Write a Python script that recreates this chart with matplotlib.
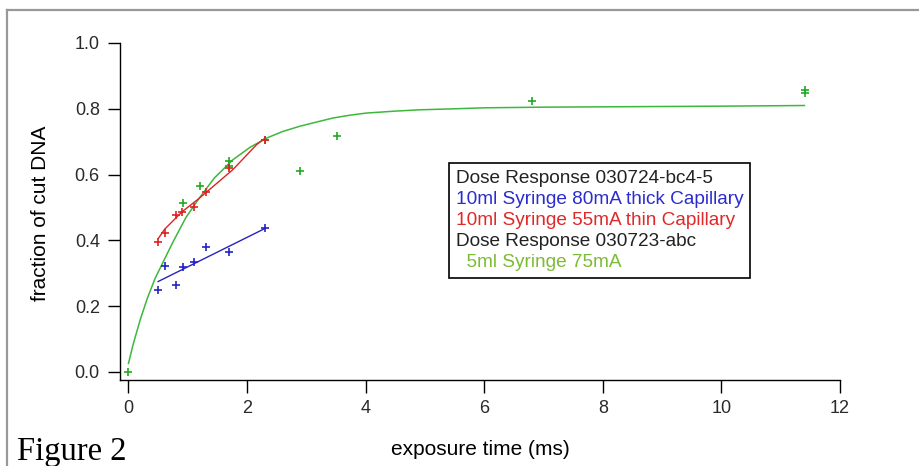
import matplotlib.pyplot as plt
from matplotlib.lines import Line2D

plt.rcParams['font.family'] = ['Liberation Sans', 'DejaVu Sans']

# 10ml Syringe 80mA thick Capillary
blue_x = [0.5, 0.61, 0.8, 0.92, 1.1, 1.3, 1.69, 2.31]
blue_y = [0.25, 0.323, 0.263, 0.319, 0.333, 0.381, 0.364, 0.437]
blue_fit_x = [0.5, 2.31]
blue_fit_y = [0.275, 0.437]

# 10ml Syringe 55mA thin Capillary
red_x = [0.5, 0.61, 0.8, 0.91, 1.1, 1.3, 1.69, 2.3]
red_y = [0.394, 0.422, 0.478, 0.485, 0.501, 0.547, 0.62, 0.706]
red_fit_x = [0.5, 0.61, 0.91, 1.2, 1.76, 2.16, 2.3]
red_fit_y = [0.405, 0.434, 0.488, 0.529, 0.615, 0.691, 0.71]

# 5ml Syringe 75mA
green_x = [0, 0.92, 1.2, 1.69, 1.69, 2.3, 2.9, 3.51, 6.81, 11.41, 11.41]
green_y = [0, 0.515, 0.566, 0.642, 0.625, 0.706, 0.61, 0.716, 0.825, 0.857, 0.848]
green_fit_x = [0, 0.08, 0.2, 0.32, 0.45, 0.6, 0.75, 0.97, 1.2, 1.45, 1.76,
               2.05, 2.33, 2.6, 2.89, 3.2, 3.45, 3.75, 4.01, 4.5, 4.92,
               5.5, 6, 7, 8, 9, 10, 11.4]
green_fit_y = [0.026, 0.085, 0.16, 0.225, 0.285, 0.34, 0.395, 0.47, 0.53,
               0.59, 0.645, 0.683, 0.711, 0.731, 0.747, 0.761, 0.772, 0.781,
               0.787, 0.793, 0.797, 0.8, 0.803, 0.805, 0.806, 0.807, 0.808,
               0.81]

legend_lines = ['Dose Response 030724-bc4-5',
                '10ml Syringe 80mA thick Capillary',
                '10ml Syringe 55mA thin Capillary',
                'Dose Response 030723-abc',
                '  5ml Syringe 75mA']
legend_colors = ['#222222', '#2b2bd0', '#e02828', '#222222', '#7cbb35']

xticks = [0, 2, 4, 6, 8, 10, 12]
yticks = [0.0, 0.2, 0.4, 0.6, 0.8, 1.0]

blue = '#2424c4'
red = '#dd2222'
green = '#22aa22'
green_line = '#3cb83c'

fig = plt.figure(figsize=(9.2, 4.66), dpi=100)
ax = fig.add_axes([120 / 920, 1 - 379.5 / 466, 720 / 920, 336.5 / 466])

ax.plot(green_fit_x, green_fit_y, color=green_line, lw=1.1)
ax.plot(red_fit_x, red_fit_y, color=red, lw=1.0)
ax.plot(blue_fit_x, blue_fit_y, color=blue, lw=1.0)
ax.plot(green_x, green_y, '+', color=green, ms=6, mew=1.2)
ax.plot(red_x, red_y, '+', color=red, ms=6, mew=1.2)
ax.plot(blue_x, blue_y, '+', color=blue, ms=6, mew=1.2)

ax.set_xlim(-0.143, 12)
ax.set_ylim(-0.0228, 1.0)
ax.set_xticks(xticks)
ax.set_yticks(yticks)
ax.set_xticklabels([str(t) for t in xticks])
ax.set_yticklabels(['%.1f' % t for t in yticks])
ax.spines['top'].set_visible(False)
ax.spines['right'].set_visible(False)
ax.spines['left'].set_linewidth(1.0)
ax.spines['bottom'].set_linewidth(1.0)
ax.tick_params(axis='both', direction='out', length=9, width=1.0,
               labelsize=13, labelcolor='#2a2a2a', pad=5.5)

ax.set_xlabel('exposure time (ms)', fontsize=15)
ax.xaxis.label.set_va('baseline')
ax.xaxis.set_label_coords(0.5, (379.5 - 455) / 336.5)
ax.set_ylabel('fraction of cut DNA', fontsize=15)
ax.yaxis.label.set_va('center')
ax.yaxis.set_label_coords((41 - 120) / 720, (379.5 - 213) / 336.5)

handles = [Line2D([], [], linestyle='none') for _ in legend_lines]
leg = ax.legend(handles, legend_lines, loc='upper left',
                bbox_to_anchor=((449 - 120) / 720, (379.5 - 163) / 336.5),
                borderaxespad=0, handlelength=0, handletextpad=0,
                fancybox=False, edgecolor='black', framealpha=1,
                fontsize=13.7, labelspacing=0.2, borderpad=0.35,
                labelcolor=legend_colors)
leg.get_frame().set_linewidth(1.2)

fig.add_artist(Line2D([7 / 920, 1], [1 - 10 / 466, 1 - 10 / 466],
                      color='#999999', lw=1.6))
fig.add_artist(Line2D([7 / 920, 7 / 920], [0, 1 - 10 / 466],
                      color='#999999', lw=1.6))
fig.text(17 / 920, 1 - 460 / 466, 'Figure 2', family='Liberation Serif',
         fontsize=23.5, va='baseline', ha='left')

fig.savefig('out.png', dpi=100)
